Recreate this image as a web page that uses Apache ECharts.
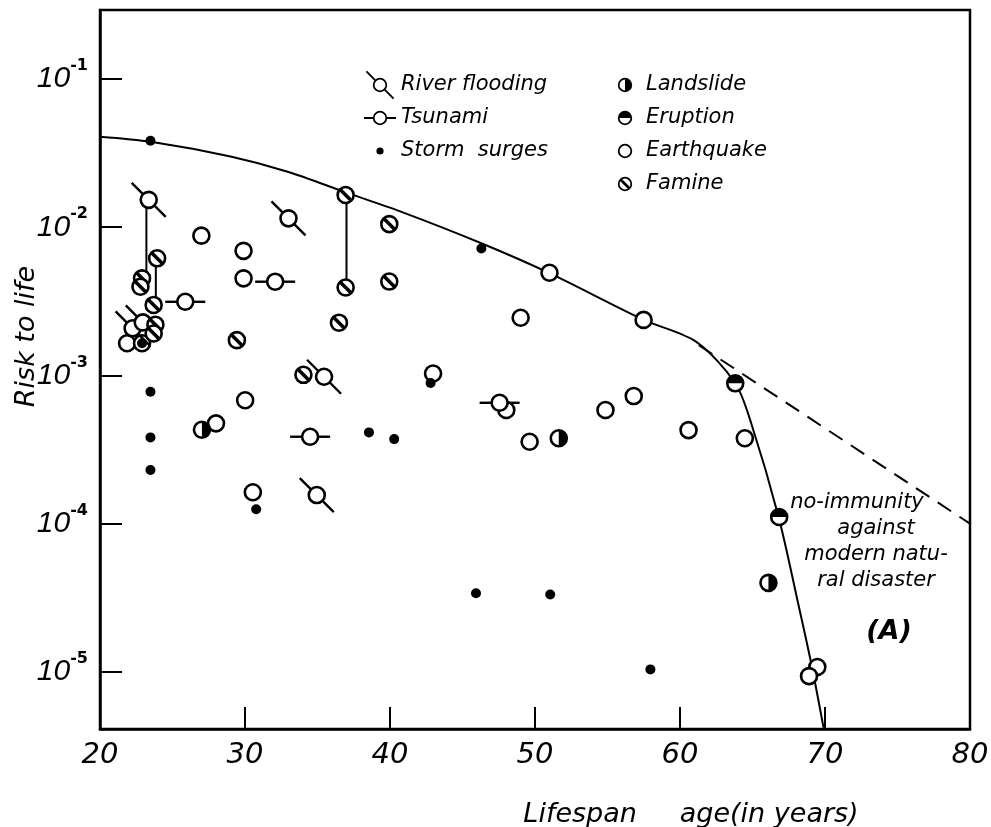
<!DOCTYPE html>
<html><head><meta charset="utf-8">
<script src="https://cdn.jsdelivr.net/npm/echarts@6/dist/echarts.min.js"></script>
<style>html,body{margin:0;padding:0;background:#fff}#c{width:991px;height:827px}</style>
</head><body><div id="c"></div>
<script>
// ---------- data ----------
const xTicks = [20, 30, 40, 50, 60, 70, 80];
const yDecades = [-5, -4, -3, -2, -1];

const curveX = [20, 23.5, 29, 33, 37, 40.7, 46.3, 51, 57.5, 61.1, 63.8, 64.9, 66.8, 68.2, 69.1, 69.9];
const curveY = [0.0408, 0.0377, 0.030, 0.0236, 0.0171, 0.0128, 0.0078, 0.0049, 0.00237, 0.00169, 0.00089, 0.00048, 0.000111, 0.0000275, 0.0000108, 0.0000042];

const dashX = [61.3, 80];
const dashY = [0.0016, 0.0001];

const earthquakeX = [21.87, 22.9, 26.99, 29.9, 29.9, 30.01, 28.0, 30.54, 42.97, 48.02, 49.63, 49.01, 51.0, 54.86, 56.81, 57.49, 60.59, 64.47, 69.47, 68.9];
const earthquakeY = [0.00165, 0.00165, 0.00877, 0.00693, 0.00452, 0.00068, 0.000475, 0.000163, 0.00103, 0.000585, 0.000357, 0.00245, 0.00493, 0.000585, 0.000726, 0.00237, 0.000428, 0.000377, 0.0000108, 0.00000937];

const floodX = [23.36, 22.25, 22.95, 33.0, 35.45, 34.95];
const floodY = [0.0153, 0.00208, 0.00228, 0.01148, 0.00098, 0.000156];

const tsunamiX = [25.88, 32.08, 34.49, 47.56];
const tsunamiY = [0.00314, 0.00429, 0.000386, 0.000654];

const stormX = [23.48, 22.9, 23.48, 23.48, 23.48, 30.77, 38.55, 40.29, 42.8, 46.3, 45.93, 51.05, 57.96];
const stormY = [0.0383, 0.00165, 0.000776, 0.000382, 0.00023, 0.000125, 0.000413, 0.000372, 0.00089, 0.00719, 0.0000339, 0.0000333, 0.0000104];

const landslideX = [27.03, 51.64, 66.1];
const landslideY = [0.00043, 0.000377, 0.0000399];

const eruptionX = [63.81, 66.84];
const eruptionY = [0.000885, 0.000111];

const famineX = [23.94, 22.9, 22.79, 23.7, 23.82, 23.7, 29.44, 34.03, 36.94, 39.95, 39.95, 36.94, 36.48];
const famineY = [0.00617, 0.00452, 0.00397, 0.00299, 0.0022, 0.00192, 0.00173, 0.00101, 0.0165, 0.0105, 0.0043, 0.00392, 0.00227];

// vertical range connectors: x, upper value, lower value
const linkX = [23.2, 23.85, 37.0];
const linkTop = [0.0153, 0.00617, 0.0165];
const linkBottom = [0.00452, 0.00299, 0.00397];

// ---------- styling helpers ----------
const FONT = "'DejaVu Sans', sans-serif";
const R = 8, LW = 2.6;
const zip = (a, b) => a.map((v, i) => [v, b[i]]);

function ring(c) { return { type: 'circle', shape: { cx: c[0], cy: c[1], r: R }, style: { fill: '#fff', stroke: '#000', lineWidth: LW } }; }
function seg(x1, y1, x2, y2, w) { return { type: 'line', shape: { x1, y1, x2, y2 }, style: { stroke: '#000', lineWidth: w || 2.4 } }; }
const glyphs = {
  earthquake: c => [ring(c)],
  flood: c => [seg(c[0] - 17, c[1] - 17, c[0] - 5, c[1] - 5), seg(c[0] + 5, c[1] + 5, c[0] + 17, c[1] + 17), ring(c)],
  tsunami: c => [seg(c[0] - 20, c[1], c[0] - 8, c[1]), seg(c[0] + 8, c[1], c[0] + 20, c[1]), ring(c)],
  storm: c => [{ type: 'circle', shape: { cx: c[0], cy: c[1], r: 5 }, style: { fill: '#000' } }],
  landslide: c => [ring(c), { type: 'sector', shape: { cx: c[0], cy: c[1], r0: 0, r: R, startAngle: -Math.PI / 2, endAngle: Math.PI / 2, clockwise: true }, style: { fill: '#000' } }],
  eruption: c => [ring(c), { type: 'sector', shape: { cx: c[0], cy: c[1], r0: 0, r: R, startAngle: Math.PI, endAngle: 2 * Math.PI, clockwise: true }, style: { fill: '#000' } }],
  famine: c => [ring(c), seg(c[0] - 5.5, c[1] - 5.5, c[0] + 5.5, c[1] + 5.5, 3.6)]
};
function glyphSeries(name, kind, xs, ys, z) {
  return {
    type: 'custom', name, z, data: zip(xs, ys), encode: { x: 0, y: 1 },
    renderItem: (params, api) => {
      const c = api.coord([api.value(0), api.value(1)]);
      return { type: 'group', children: glyphs[kind](c) };
    }
  };
}

// legend icons drawn in a 40x40 box
const BOX = 'M0 0M40 40';
const RING = 'M11 20A9 9 0 1 1 29 20A9 9 0 1 1 11 20Z M13.2 20A6.8 6.8 0 1 0 26.8 20A6.8 6.8 0 1 0 13.2 20Z';
const icons = {
  'River flooding': BOX + RING + 'M3.9 2.2L15.3 13.6L13.6 15.3L2.2 3.9Z M26.4 24.7L37.8 36.1L36.1 37.8L24.7 26.4Z',
  'Tsunami': BOX + RING + 'M0 18.7L11.5 18.7L11.5 21.3L0 21.3Z M28.5 18.7L40 18.7L40 21.3L28.5 21.3Z',
  'Storm  surges': BOX + 'M15.5 20A4.5 4.5 0 1 1 24.5 20A4.5 4.5 0 1 1 15.5 20Z',
  'Landslide': BOX + RING + 'M20 13.2A6.8 6.8 0 0 1 20 26.8Z',
  'Eruption': BOX + RING + 'M13.2 20A6.8 6.8 0 0 1 26.8 20Z',
  'Earthquake': BOX + RING,
  'Famine': BOX + RING + 'M15.9 13.5L26.5 24.1L24.1 26.5L13.5 15.9Z'
};
const legendItem = n => ({ name: n, icon: 'path://' + icons[n], itemStyle: { color: '#000', borderWidth: 0 } });
const legendText = { fontFamily: FONT, fontStyle: 'italic', fontSize: 21, color: '#000' };

const chart = echarts.init(document.getElementById('c'), null, { renderer: 'canvas' });
chart.setOption({
  animation: false,
  backgroundColor: '#fff',
  grid: { left: 100, right: 21, top: 10, bottom: 98, outerBoundsMode: 'none', containLabel: false,
    show: true, borderColor: '#000', borderWidth: 2.5, backgroundColor: 'transparent' },
  legend: [
    { orient: 'vertical', left: 359, top: 64, itemWidth: 32, itemHeight: 32, itemGap: 1, itemTextGap: 4, selectedMode: false,
      textStyle: legendText, data: ['River flooding', 'Tsunami', 'Storm  surges'].map(legendItem) },
    { orient: 'vertical', left: 604, top: 64, itemWidth: 32, itemHeight: 32, itemGap: 1, itemTextGap: 10, selectedMode: false,
      textStyle: legendText, data: ['Landslide', 'Eruption', 'Earthquake', 'Famine'].map(legendItem) }
  ],
  xAxis: {
    type: 'value', min: xTicks[0], max: xTicks[xTicks.length - 1], interval: 10,
    name: 'Lifespan     age(in years)', nameLocation: 'middle', nameGap: 72,
    nameTextStyle: { fontFamily: FONT, fontStyle: 'italic', fontSize: 27, color: '#000', padding: [0, 0, 0, 312] },
    axisLine: { show: true, lineStyle: { color: '#000', width: 2.5 } },
    axisTick: { show: true, inside: true, length: 22, lineStyle: { color: '#000', width: 2 } },
    axisLabel: { margin: 12, fontFamily: FONT, fontStyle: 'italic', fontSize: 29, color: '#000',
      formatter: v => xTicks.includes(v) ? String(v) : '' },
    splitLine: { show: false }
  },
  yAxis: {
    type: 'log', logBase: 10, min: 4.12e-6, max: 0.292,
    name: 'Risk to life', nameLocation: 'middle', nameGap: 60, nameMoveOverlap: false,
    nameTextStyle: { fontFamily: FONT, fontStyle: 'italic', fontSize: 27, color: '#000', padding: [0, 0, 0, 66] },
    axisLine: { show: true, lineStyle: { color: '#000', width: 2.5 } },
    axisTick: { show: true, inside: true, length: 22, lineStyle: { color: '#000', width: 2 } },
    minorTick: { show: false },
    splitLine: { show: false },
    axisLabel: {
      margin: 12, showMinLabel: false, showMaxLabel: false,
      formatter: v => {
        const e = Math.round(Math.log10(v));
        if (Math.abs(Math.log10(v) - e) > 1e-6 || !yDecades.includes(e)) return '';
        return '{b|10}{s|' + e + '}';
      },
      rich: {
        b: { fontFamily: "'Liberation Sans', sans-serif", fontStyle: 'italic', fontSize: 30, color: '#000', lineHeight: 42, verticalAlign: 'middle' },
        s: { fontFamily: FONT, fontWeight: 'bold', fontSize: 16, color: '#000', lineHeight: 42, verticalAlign: 'top' }
      }
    }
  },
  graphic: [
    { type: 'text', x: 857, y: 490, silent: true,
      style: { text: 'no-immunity', align: 'center', verticalAlign: 'top',
        fontFamily: FONT, fontStyle: 'italic', fontSize: 21, lineHeight: 26, fill: '#000' } },
    { type: 'text', x: 876, y: 516, silent: true,
      style: { text: 'against\nmodern natu-\nral disaster', align: 'center', verticalAlign: 'top',
        fontFamily: FONT, fontStyle: 'italic', fontSize: 21, lineHeight: 26, fill: '#000' } },
    { type: 'text', x: 889, y: 632, silent: true,
      style: { text: '(A)', align: 'center', verticalAlign: 'middle',
        fontFamily: FONT, fontStyle: 'italic', fontWeight: 'bold', fontSize: 27, fill: '#000' } }
  ],
  series: [
    { type: 'line', name: 'curve', data: zip(curveX, curveY), symbol: 'none', smooth: 0.3, z: 2,
      lineStyle: { color: '#000', width: 2 }, silent: true },
    { type: 'line', name: 'dash', data: zip(dashX, dashY), symbol: 'none', z: 2,
      lineStyle: { color: '#000', width: 2, type: [16, 10] }, silent: true },
    { type: 'custom', name: 'links', z: 2, data: linkX.map((x, i) => [x, linkTop[i], linkBottom[i]]), encode: { x: 0, y: [1, 2] },
      renderItem: (params, api) => {
        const a = api.coord([api.value(0), api.value(1)]);
        const b = api.coord([api.value(0), api.value(2)]);
        return { type: 'line', shape: { x1: a[0], y1: a[1], x2: b[0], y2: b[1] }, style: { stroke: '#000', lineWidth: 2 } };
      } },
    glyphSeries('Earthquake', 'earthquake', earthquakeX, earthquakeY, 3),
    glyphSeries('River flooding', 'flood', floodX, floodY, 4),
    glyphSeries('Famine', 'famine', famineX, famineY, 5),
    glyphSeries('Tsunami', 'tsunami', tsunamiX, tsunamiY, 6),
    glyphSeries('Landslide', 'landslide', landslideX, landslideY, 7),
    glyphSeries('Eruption', 'eruption', eruptionX, eruptionY, 8),
    glyphSeries('Storm  surges', 'storm', stormX, stormY, 9)
  ]
});
</script></body></html>
